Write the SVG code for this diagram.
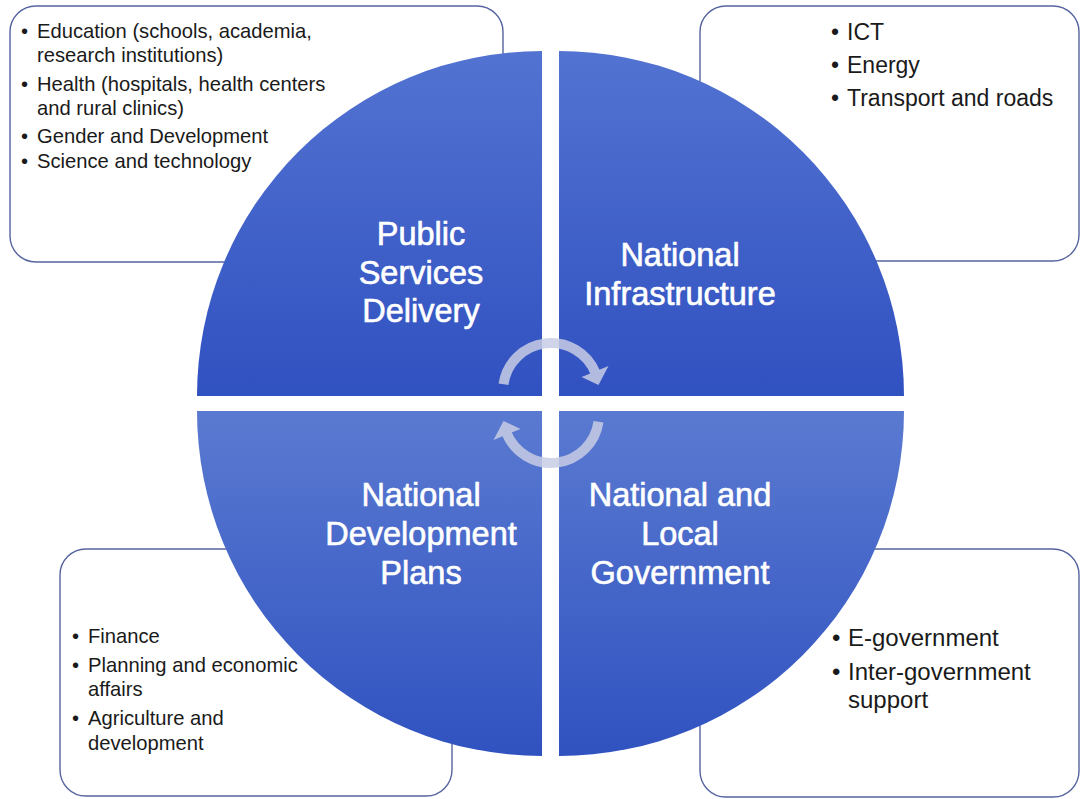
<svg xmlns="http://www.w3.org/2000/svg" width="1081" height="799" viewBox="0 0 1081 799">
  <defs>
    <linearGradient id="quadFill" x1="0" y1="0" x2="0" y2="1">
      <stop offset="0" stop-color="#5373d2"/>
      <stop offset="1" stop-color="#3051c0"/>
    </linearGradient>
    <linearGradient id="quadFillLow" x1="0" y1="0" x2="0" y2="1">
      <stop offset="0" stop-color="#5a7ad1"/>
      <stop offset="1" stop-color="#3052c0"/>
    </linearGradient>
  </defs>
  <style>
    .box { fill: #ffffff; stroke: #55649f; stroke-width: 1.4; }
    .quad { stroke: none; }
    .title { font-family: "Liberation Sans", Arial, sans-serif; font-size: 32.5px; fill: #ffffff; stroke: #ffffff; stroke-width: 0.6; text-anchor: middle; }
    .item { font-family: "Liberation Sans", Arial, sans-serif; fill: #1a1a1a; }
    .s20 { font-size: 20.2px; }
    .s23 { font-size: 23px; }
    .s24 { font-size: 24px; }
    .cycle { fill: #c8cde5; stroke: none; }
    .cycle-line { fill: none; stroke: #c8cde5; stroke-width: 10; }
  </style>

  <rect width="1081" height="799" fill="#ffffff"/>

  <!-- detail boxes sit behind the circle -->
  <g id="box-public-services">
    <rect class="box" x="10" y="6" width="493" height="256" rx="26" ry="26"/>
    <g class="item s20">
      <text x="21" y="38">•</text><text x="37" y="38">Education (schools, academia,</text>
      <text x="37" y="62">research institutions)</text>
      <text x="21" y="91">•</text><text x="37" y="91">Health (hospitals, health centers</text>
      <text x="37" y="115">and rural clinics)</text>
      <text x="21" y="143">•</text><text x="37" y="143">Gender and Development</text>
      <text x="21" y="168">•</text><text x="37" y="168">Science and technology</text>
    </g>
  </g>

  <g id="box-infrastructure">
    <rect class="box" x="700" y="6" width="379" height="255" rx="26" ry="26"/>
    <g class="item s23">
      <text x="831" y="40">•</text><text x="847" y="40">ICT</text>
      <text x="831" y="73">•</text><text x="847" y="73">Energy</text>
      <text x="831" y="106">•</text><text x="847" y="106">Transport and roads</text>
    </g>
  </g>

  <g id="box-development-plans">
    <rect class="box" x="60" y="549" width="392" height="247" rx="26" ry="26"/>
    <g class="item s20">
      <text x="72" y="643">•</text><text x="88" y="643">Finance</text>
      <text x="72" y="672">•</text><text x="88" y="672">Planning and economic</text>
      <text x="88" y="696">affairs</text>
      <text x="72" y="725">•</text><text x="88" y="725">Agriculture and</text>
      <text x="88" y="750">development</text>
    </g>
  </g>

  <g id="box-local-government">
    <rect class="box" x="700" y="549" width="379" height="248" rx="26" ry="26"/>
    <g class="item s24">
      <text x="832" y="646">•</text><text x="848" y="646">E-government</text>
      <text x="832" y="680">•</text><text x="848" y="680">Inter-government</text>
      <text x="848" y="708">support</text>
    </g>
  </g>

  <!-- four quarter discs forming the central circle -->
  <g id="node-public-services">
    <path class="quad" fill="url(#quadFill)" d="M542,396 L197,396 A345,345 0 0 1 542,51 Z"/>
    <text class="title" x="421" y="245">Public</text>
    <text class="title" x="421" y="284">Services</text>
    <text class="title" x="421" y="322">Delivery</text>
  </g>

  <g id="node-infrastructure">
    <path class="quad" fill="url(#quadFill)" d="M559,396 L559,51 A345,345 0 0 1 904,396 Z"/>
    <text class="title" x="680" y="266">National</text>
    <text class="title" x="680" y="305">Infrastructure</text>
  </g>

  <g id="node-development-plans">
    <path class="quad" fill="url(#quadFillLow)" d="M542,411 L542,756 A345,345 0 0 1 197,411 Z"/>
    <text class="title" x="421" y="506">National</text>
    <text class="title" x="421" y="545">Development</text>
    <text class="title" x="421" y="584">Plans</text>
  </g>

  <g id="node-local-government">
    <path class="quad" fill="url(#quadFillLow)" d="M559,411 L904,411 A345,345 0 0 1 559,756 Z"/>
    <text class="title" x="680" y="506">National and</text>
    <text class="title" x="680" y="545">Local</text>
    <text class="title" x="680" y="584">Government</text>
  </g>

  <!-- circular arrows in the middle -->
  <g id="connectors" opacity="0.85">
    <g id="cycle-top">
      <path class="cycle-line" d="M503.5,384.3 A48,48 0 0 1 595.5,373"/>
      <polygon class="cycle" points="581.5,377 608.5,366 598.5,385"/>
    </g>
    <g id="cycle-bottom" transform="rotate(180 551 403)">
      <path class="cycle-line" d="M503.5,384.3 A48,48 0 0 1 595.5,373"/>
      <polygon class="cycle" points="581.5,377 608.5,366 598.5,385"/>
    </g>
  </g>
</svg>
